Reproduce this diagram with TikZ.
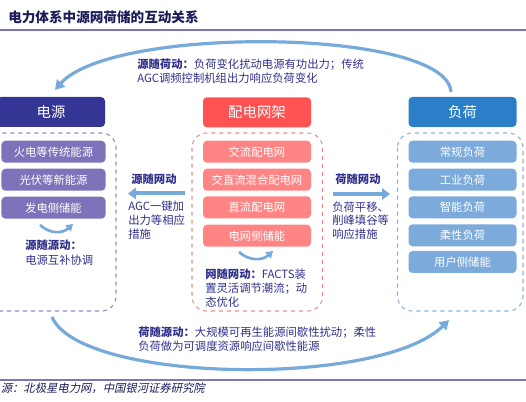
\documentclass[tikz,border=0pt]{standalone}
\usepackage{fontspec}
\setmainfont{Noto Sans CJK SC}
\newfontfamily\srcfont{Noto Sans CJK SC}[FakeSlant=0.22]
\usetikzlibrary{arrows.meta}
\definecolor{navy}{RGB}{48,48,140}
\definecolor{titlec}{RGB}{28,28,90}
\definecolor{rulec}{RGB}{120,120,185}
\definecolor{hdrL}{RGB}{53,53,150}
\definecolor{hdrM}{RGB}{255,82,82}
\definecolor{hdrR}{RGB}{42,127,200}
\definecolor{itemL}{RGB}{126,114,186}
\definecolor{itemM}{RGB}{255,133,133}
\definecolor{itemR}{RGB}{124,170,219}
\definecolor{dashL}{RGB}{140,140,192}
\definecolor{dashM}{RGB}{232,144,144}
\definecolor{dashR}{RGB}{138,176,220}
\definecolor{arcc}{RGB}{118,170,218}
\tikzset{
  hdr/.style={rounded corners=3pt, minimum width=81pt, minimum height=22.5pt, inner sep=0pt, text=white, font=\fontsize{10.8}{12}\selectfont},
  item/.style={rounded corners=3pt, minimum width=81pt, minimum height=16.5pt, inner sep=0pt, text=white, font=\fontsize{8.5}{10}\selectfont},
  frame/.style={dashed, line width=0.8pt, rounded corners=11pt},
  txt/.style={anchor=west, inner sep=0pt, text=navy, font=\fontsize{8.5}{10}\selectfont},
  arc/.style={draw=arcc, line width=2.4pt, -{Triangle[length=7pt,width=8pt]}},
  smallarc/.style={draw=arcc, line width=2pt, -{Triangle[length=5pt,width=6pt]}},
  flat/.style={draw=arcc, line width=3pt, -{Triangle[length=6pt,width=8.5pt]}},
  rule/.style={draw=rulec, line width=1.1pt}
}
\begin{document}
\begin{tikzpicture}[x=0.75pt,y=-0.75pt]
\useasboundingbox (0,0) rectangle (526,402);
% title and rules
\node[anchor=west, inner sep=0pt, text=titlec, font=\bfseries\fontsize{10.2}{12}\selectfont] (title) at (8,17) {电力体系中源网荷储的互动关系};
\draw[rule] (0,30) coordinate (r1a) -- (526,30) coordinate (r1b);
\draw[rule] (0,380) coordinate (r2a) -- (526,380) coordinate (r2b);
\node[anchor=west, inner sep=0pt, text=titlec, font=\srcfont\fontsize{8.5}{10}\selectfont] (src) at (0.5,388.5) {源：北极星电力网，中国银河证券研究院};

% frames
\draw[frame, draw=dashL] (-20,133) rectangle (116,311);
\draw[frame, draw=dashM] (192,133) rectangle (322.5,311);
\draw[frame, draw=dashR] (397.5,133) rectangle (523,311);

% headers
\node[hdr, fill=hdrL, minimum width=81pt] (hL) at (51,112) {电源};
\node[hdr, fill=hdrM] (hM) at (257,112.3) {配电网架};
\node[hdr, fill=hdrR] (hR) at (462.5,112) {负荷};

% left items
\node[item, fill=itemL, minimum width=78pt] (l1) at (53.5,151.7) {火电等传统能源};
\node[item, fill=itemL, minimum width=78pt] (l2) at (53.5,179.7) {光伏等新能源};
\node[item, fill=itemL, minimum width=78pt] (l3) at (53.5,207.7) {发电侧储能};
% middle items
\node[item, fill=itemM] (m1) at (257,151.7) {交流配电网};
\node[item, fill=itemM] (m2) at (257,179.7) {交直流混合配电网};
\node[item, fill=itemM] (m3) at (257,207.3) {直流配电网};
\node[item, fill=itemM] (m4) at (257,235.7) {电网侧储能};
% right items
\node[item, fill=itemR] (r1) at (462.5,151.7) {常规负荷};
\node[item, fill=itemR] (r2) at (462.5,179.7) {工业负荷};
\node[item, fill=itemR] (r3) at (462.5,207.3) {智能负荷};
\node[item, fill=itemR] (r4) at (462.5,235.3) {柔性负荷};
\node[item, fill=itemR] (r5) at (462.5,262) {用户侧储能};

% big arcs
\coordinate (ta) at (451,92);
\coordinate (tb) at (55,90);
\draw[arc] (ta) .. controls (447,28) and (112,25) .. (tb);
\coordinate (ba) at (52,317);
\coordinate (bb) at (449,320);
\draw[arc] (ba) .. controls (80,383) and (380,388) .. (bb);

% small arcs
\coordinate (sa1) at (40,225);
\coordinate (sa2) at (73,224);
\draw[smallarc] (sa1) .. controls (50,234) and (62,234) .. (sa2);
\coordinate (sb1) at (239,252);
\coordinate (sb2) at (273,251);
\draw[smallarc] (sb1) .. controls (249,261) and (262,261) .. (sb2);

% straight arrows
\coordinate (fa1) at (185,193.5);
\coordinate (fa2) at (128,193.5);
\draw[flat] (fa1) -- (fa2);
\coordinate (fb1) at (333,194);
\coordinate (fb2) at (390,194);
\draw[flat] (fb1) -- (fb2);

% texts
\node[txt] (t1) at (137,64.3) {\bfseries 源随荷动：\mdseries 负荷变化扰动电源有功出力；传统};
\node[txt] (t2) at (137,77.7) {AGC调频控制机组出力响应负荷变化};

\node[txt] (ls1) at (25,245) {\bfseries 源随源动：};
\node[txt] (ls2) at (25,260.7) {电源互补协调};

\node[txt] (a1) at (131,179) {\bfseries 源随网动};
\node[txt] (a2) at (128,206.7) {AGC一键加};
\node[txt] (a3) at (128,220.5) {出力等相应};
\node[txt] (a4) at (128,234) {措施};

\node[txt] (mm1) at (205,274) {\bfseries 网随网动：\mdseries FACTS装};
\node[txt] (mm2) at (205,288.5) {置灵活调节潮流；动};
\node[txt] (mm3) at (205,302.3) {态优化};

\node[txt] (b1) at (335,179) {\bfseries 荷随网动};
\node[txt] (b2) at (332,207.3) {负荷平移、};
\node[txt] (b3) at (332,220.5) {削峰填谷等};
\node[txt] (b4) at (332,234) {响应措施};

\node[txt] (bt1) at (138,332.3) {\bfseries 荷随源动：\mdseries 大规模可再生能源间歇性扰动；柔性};
\node[txt] (bt2) at (138,346) {负荷做为可调度资源响应间歇性能源};
\end{tikzpicture}
\end{document}
